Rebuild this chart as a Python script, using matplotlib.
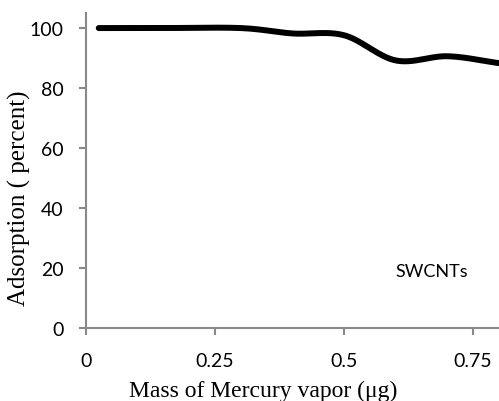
import numpy as np
import matplotlib
matplotlib.use("Agg")
from matplotlib import pyplot as plt

# values
mass = [0.025, 0.15, 0.3, 0.4, 0.5, 0.6, 0.7, 0.8]
adsorption = [100, 100, 100, 98.2, 97.6, 89.2, 90.6, 88.3]
xticks = [0, 0.25, 0.5, 0.75]
yticks = [0, 20, 40, 60, 80, 100]


def smooth(x, y, n=30):
    # Catmull-Rom style smoothing, similar to Excel's smoothed line
    x = np.asarray(x, float)
    y = np.asarray(y, float)
    px = np.concatenate([[2 * x[0] - x[1]], x, [2 * x[-1] - x[-2]]])
    py = np.concatenate([[2 * y[0] - y[1]], y, [2 * y[-1] - y[-2]]])
    xs, ys = [], []
    t = np.linspace(0, 1, n)
    for i in range(1, len(px) - 2):
        for p, out in ((px, xs), (py, ys)):
            p0, p1, p2, p3 = p[i - 1], p[i], p[i + 1], p[i + 2]
            out.extend(0.5 * ((2 * p1) + (-p0 + p2) * t
                              + (2 * p0 - 5 * p1 + 4 * p2 - p3) * t ** 2
                              + (-p0 + 3 * p1 - 3 * p2 + p3) * t ** 3))
    return np.array(xs), np.array(ys)


fig = plt.figure(figsize=(4.99, 4.02), dpi=100)
ax = fig.add_axes([0.172, 0.182, 0.828, 0.783])

sx, sy = smooth(mass, adsorption)
ax.plot(sx, sy, color="black", lw=4.3, solid_capstyle="round")

ax.set_xlim(0, 0.8)
ax.set_ylim(0, 105)
ax.set_xticks(xticks)
ax.set_xticklabels(["0", "0.25", "0.5", "0.75"])
ax.set_yticks(yticks)

for s in ["top", "right"]:
    ax.spines[s].set_visible(False)
for s in ["left", "bottom"]:
    ax.spines[s].set_color("#898989")
    ax.spines[s].set_linewidth(1.5)
ax.tick_params(color="#898989", width=1.5, length=5, direction="out", pad=11)
ax.tick_params(axis="x", pad=12.5)
for lab in ax.get_xticklabels() + ax.get_yticklabels():
    lab.set_family("Lato")
    lab.set_fontsize(14)

ax.set_xlabel("Mass of Mercury vapor (μg)", family="Liberation Serif", fontsize=17)
ax.set_ylabel("Adsorption ( percent)", family="Liberation Serif", fontsize=18)
ax.xaxis.set_label_coords(0.4286, -0.165)
ax.yaxis.set_label_coords(-0.133, 0.416)

ax.text(0.67, 19, "SWCNTs", family="Lato", fontsize=13, ha="center", va="center")

fig.savefig("out.png", dpi=100)
